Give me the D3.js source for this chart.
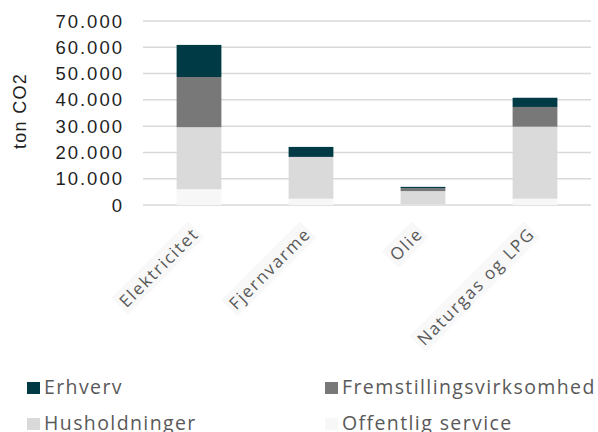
<!DOCTYPE html>
<html lang="da">
<head>
  <meta charset="UTF-8" />
  <title>CO2 udledning</title>
  <script src="https://d3js.org/d3.v7.min.js"></script>
  <style>
    body { margin: 0; background: #fff; }
    .tick-label { font-family: "Liberation Sans", Arial, sans-serif; font-size: 18.5px; fill: #1f1f1f; letter-spacing: 2px; }
    .axis-title { font-family: "Liberation Sans", Arial, sans-serif; font-size: 18px; fill: #1f1f1f; letter-spacing: 1.3px; }
    .cat-label { font-family: "Open Sans", sans-serif; font-size: 17px; fill: #595959; letter-spacing: 1.7px; }
    .legend-label { font-family: "Open Sans", sans-serif; font-size: 19.5px; fill: #595959; letter-spacing: 1.4px; }
  </style>
</head>
<body>
  <svg id="chart" width="598" height="432"></svg>

  <script>
    const categories = ['Elektricitet', 'Fjernvarme', 'Olie', 'Naturgas og LPG'];
    const seriesNames = ['Offentlig service', 'Husholdninger', 'Fremstillingsvirksomhed', 'Erhverv'];
    const offentlig = [6000, 2400, 200, 2400];
    const husholdninger = [23600, 15900, 5100, 27400];
    const fremstilling = [19100, 0, 1100, 7500];
    const erhverv = [12200, 3800, 500, 3500];
    const yTicks = [0, 10000, 20000, 30000, 40000, 50000, 60000, 70000];
    const colors = ['#f7f7f7', '#dadada', '#787878', '#003a45'];

    const svg = d3.select('#chart');
    const x0 = 143, x1 = 591, yTop = 21, yBottom = 205;

    const rows = categories.map((c, i) => ({
      cat: c,
      'Offentlig service': offentlig[i],
      'Husholdninger': husholdninger[i],
      'Fremstillingsvirksomhed': fremstilling[i],
      'Erhverv': erhverv[i]
    }));
    const stacked = d3.stack().keys(seriesNames)(rows);

    const x = d3.scaleBand().domain(categories).range([x0, x1]).paddingInner(0.6).paddingOuter(0.3);
    const y = d3.scaleLinear().domain([0, 70000]).range([yBottom, yTop]);
    const fmt = v => d3.format(',')(v).replace(/,/g, '.');

    // Gridlines
    svg.append('g')
      .selectAll('line')
      .data(yTicks)
      .enter()
      .append('line')
      .attr('x1', x0)
      .attr('x2', x1)
      .attr('y1', d => y(d))
      .attr('y2', d => y(d))
      .attr('stroke', '#d9d9d9')
      .attr('stroke-width', 1.5);

    // Tick labels
    svg.append('g')
      .selectAll('text')
      .data(yTicks)
      .enter()
      .append('text')
      .attr('class', 'tick-label')
      .attr('x', 124)
      .attr('y', d => y(d) + 6.5)
      .attr('text-anchor', 'end')
      .text(d => fmt(d));

    // Bars
    svg.append('g')
      .selectAll('g')
      .data(stacked)
      .enter()
      .append('g')
      .attr('fill', (d, i) => colors[i])
      .selectAll('rect')
      .data(d => d)
      .enter()
      .append('rect')
      .attr('x', d => x(d.data.cat))
      .attr('y', d => y(d[1]))
      .attr('width', x.bandwidth())
      .attr('height', d => y(d[0]) - y(d[1]));

    // Category labels, with faint backdrop
    const catG = svg.append('g')
      .selectAll('g')
      .data(categories)
      .enter()
      .append('g')
      .attr('transform', d => `translate(${x(d) + x.bandwidth() / 2 + 1},${yBottom + 30}) rotate(-45)`);
    catG.append('text')
      .attr('class', 'cat-label')
      .attr('text-anchor', 'end')
      .text(d => d);
    catG.each(function () {
      const g = d3.select(this);
      const b = g.select('text').node().getBBox();
      g.insert('rect', 'text')
        .attr('x', b.x - 3)
        .attr('y', b.y)
        .attr('width', b.width + 4)
        .attr('height', b.height)
        .attr('fill', '#f8f8f8');
    });

    // Y axis title
    svg.append('text')
      .attr('class', 'axis-title')
      .attr('transform', `translate(26,111) rotate(-90)`)
      .attr('text-anchor', 'middle')
      .text('ton CO2');

    // Legend
    const legendItems = [
      { name: 'Erhverv', color: colors[3], x: 27, y: 394 },
      { name: 'Fremstillingsvirksomhed', color: colors[2], x: 325, y: 394 },
      { name: 'Husholdninger', color: colors[1], x: 27, y: 430 },
      { name: 'Offentlig service', color: colors[0], x: 325, y: 430 }
    ];
    const legend = svg.append('g')
      .selectAll('g')
      .data(legendItems)
      .enter()
      .append('g')
      .attr('transform', d => `translate(${d.x},${d.y})`);
    legend.append('rect')
      .attr('x', 0)
      .attr('y', -12)
      .attr('width', 13)
      .attr('height', 12)
      .attr('fill', d => d.color);
    legend.append('text')
      .attr('class', 'legend-label')
      .attr('x', 17)
      .attr('y', 0)
      .text(d => d.name);
  </script>
</body>
</html>
